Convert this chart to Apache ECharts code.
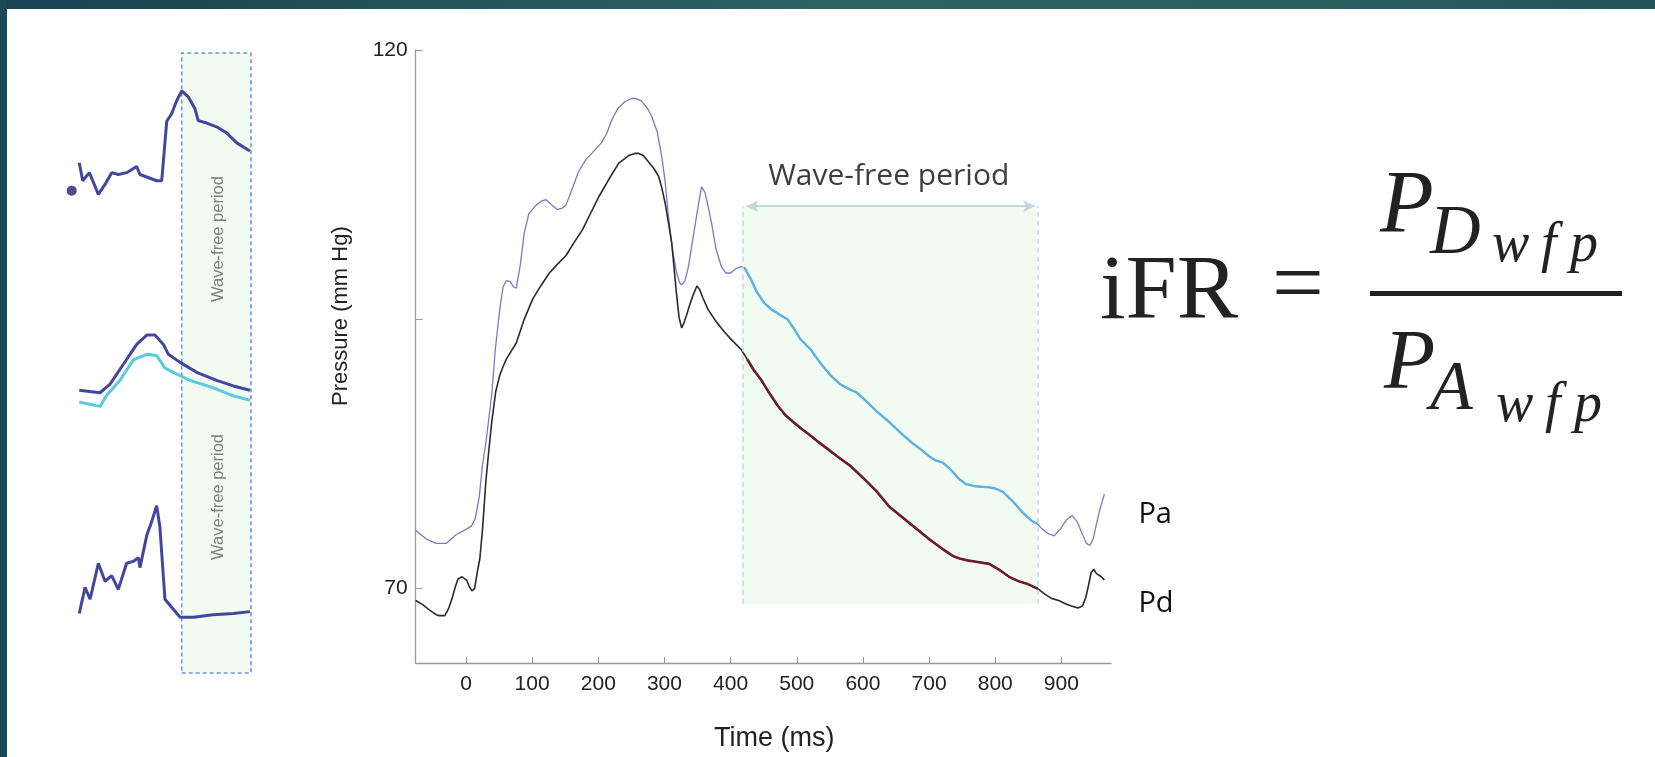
<!DOCTYPE html>
<html><head><meta charset="utf-8">
<script src="https://cdn.jsdelivr.net/npm/echarts@6/dist/echarts.min.js"></script>
<style>html,body{margin:0;padding:0;background:#fff;}#c{width:1655px;height:757px;}</style>
</head><body><div id="c"></div>
<script>
// ---------------- DATA ----------------
// Main chart: aortic (Pa) and distal (Pd) pressure, time in ms, pressure in mm Hg
const paTime = [-76,-60,-45,-30,-15,0,8,14,20,25,30,35,39,44,51,56,61,67,72,76,82,88,95,106,115,121,130,138,145,151,160,170,181,190,196,205,213,221,230,240,250,256,265,275,281,289,296,301,306,312,318,323,326,331,336,343,351,356,361,366,371,378,386,393,400,408,416,421,430,440,451,462,475,486,495,505,521,535,551,565,580,591,605,620,641,660,675,686,700,710,721,735,745,756,770,791,800,811,825,841,855,864,870,880,889,898,908,916,924,932,938,943,948,953,958,965];
const paValue = [75.4,74.6,74.2,74.2,75.0,75.5,75.8,76.5,78.5,81.5,83.5,86,88,92,95.9,98.0,98.6,98.5,98.0,97.9,100,103,104.8,105.6,106.0,106.1,105.6,105.2,105.3,105.6,107,108.7,109.8,110.4,110.8,111.4,112.3,113.6,114.6,115.2,115.5,115.5,115.3,114.5,113.8,112.4,110.1,107.8,104.6,101.5,99.4,98.4,98.2,98.6,99.8,102.5,105.5,107.3,106.8,105.5,104.0,101.5,99.9,99.3,99.3,99.7,99.9,99.8,98.8,97.5,96.5,95.9,95.4,95.0,94.2,93.2,92.2,91.0,89.8,89.0,88.5,88.2,87.4,86.5,85.4,84.3,83.5,83.0,82.3,81.9,81.7,80.9,80.2,79.7,79.5,79.4,79.3,79.0,78.2,77.1,76.3,76.0,75.6,75.1,74.9,75.5,76.4,76.8,76.2,75.0,74.2,74.0,74.6,76.0,77.3,78.8];
const pdTime = [-76,-65,-57,-48,-42,-32,-26,-21,-16,-12,-6,1,5,9,13,17,21,25,30,34,39,45,51,56,61,68,76,88,101,113,126,138,151,163,176,188,201,216,231,246,255,261,268,276,284,291,296,301,306,311,315,318,322,326,329,333,338,343,349,353,358,366,378,391,403,416,425,435,446,458,471,483,496,508,521,533,546,563,581,600,621,640,660,680,700,720,737,746,760,771,791,805,821,835,850,864,875,885,896,906,915,925,932,937,941,945,949,953,958,962,965];
const pdValue = [68.9,68.5,68.1,67.7,67.5,67.5,68.2,69.1,70.2,70.9,71.1,70.8,70.2,69.8,70.0,71.5,72.8,75.5,79.9,82.5,85.5,88.3,89.8,90.6,91.3,92.0,92.8,95.0,96.9,98.1,99.3,100.1,100.9,102.1,103.3,104.8,106.4,108.0,109.5,110.2,110.4,110.4,110.2,109.6,109.0,108.3,107.2,105.8,104.0,102.1,99.5,97.5,95.2,94.2,94.6,95.3,96.3,97.2,98.1,97.8,97.0,95.9,94.8,93.8,93.0,92.2,91.3,90.3,89.4,88.2,87.0,86.1,85.4,84.8,84.2,83.6,83.0,82.2,81.4,80.3,79.0,77.6,76.6,75.6,74.6,73.7,73.0,72.8,72.6,72.5,72.3,71.8,71.1,70.7,70.4,70.0,69.5,69.1,68.9,68.6,68.4,68.2,68.4,69.2,70.3,71.5,71.8,71.4,71.2,71.0,70.8];
const wfpTime = [418, 864];          // wave-free period (ms)
const wfpPressure = [68.6, 105.5];   // shaded band extent (mm Hg)
const xTicks = [0,100,200,300,400,500,600,700,800,900];
const yTicks = [70,95,120];
const yLabels = [70,120];

// Left panel sketches (arbitrary units: x 0-100, y 0-100)
const s1x = [4.6,6.5,10.2,15.2,18.9,22.6,26.3,30.9,36.5,38.3,47.6,50.4,53.2,55.9,58.7,61.5,65.2,68.9,70.7,75.4,80.9,86.5,92.1,99.4];
const s1y = [82.3,79.4,80.7,77.2,78.8,80.7,80.4,80.7,81.7,80.4,79.4,79.4,89.0,90.2,92.3,93.9,92.9,91.0,89.1,88.7,88.1,87.1,85.5,84.2];
const s1dot = [0.4, 77.8];
const s2x = [4.6,16.1,21.7,29.1,36.5,42.1,46.7,51.3,54.1,60.6,69.8,80.9,90.2,99.4];
const s2y = [45.6,45.2,46.6,49.8,53.0,54.5,54.5,53.0,51.4,50.1,48.5,47.2,46.3,45.6];
const s2cx = [4.6,16.1,19.6,27.2,34.6,42.1,47.6,52.2,56.8,66.1,79.1,90.2,99.4];
const s2cy = [43.7,43.0,44.7,47.2,50.5,51.4,51.2,49.2,48.5,47.2,46.0,44.7,44.0];
const s3x = [4.6,7.8,10.6,15.2,18.9,22.6,26.3,30.9,34.6,37.4,38.3,42.1,44.8,47.6,49.4,52.2,55.9,60.6,68.0,79.1,90.2,99.4];
const s3y = [9.6,13.8,11.9,17.7,14.8,15.7,13.5,17.7,18.0,18.6,17.0,22.2,24.4,27.0,23.5,11.9,10.6,9.0,9.0,9.4,9.6,9.9];
const boxX = [61.5, 100];
const boxY = [0, 100];
const boxLabelPos = [[81.7, 70.0],[81.7, 28.4]];

// ---------------- BUILD ----------------
const zip = (a, b) => a.map((v, i) => [v, b[i]]);
const inW = p => p[0] >= wfpTime[0] && p[0] <= wfpTime[1];
const paData = zip(paTime, paValue);
const pdData = zip(pdTime, pdValue);
const paW = paData.filter(inW);
const pdW = pdData.filter(inW);

const chart = echarts.init(document.getElementById('c'));
const sans = "'Liberation Sans',Arial,sans-serif";
const calib = "'Open Sans',Lato,sans-serif";
const serif = "'Liberation Serif','DejaVu Serif',serif";

const option = {
  animation: false,
  backgroundColor: '#ffffff',
  grid: [
    {left: 415.7, top: 50, width: 695.3, height: 614.5},
    {left: 71, top: 53, width: 180, height: 620}
  ],
  xAxis: [
    {type: 'value', gridIndex: 0, min: -76, max: 975,
     axisLine: {show: true, onZero: false, lineStyle: {color: '#999', width: 1.3}},
     axisTick: {show: true, inside: true, length: 6, customValues: xTicks, lineStyle: {color: '#999'}},
     axisLabel: {customValues: xTicks, fontFamily: sans, fontSize: 21, color: '#222', margin: 11},
     splitLine: {show: false},
     name: 'Time (ms)', nameLocation: 'middle', nameGap: 62,
     nameTextStyle: {fontFamily: sans, fontSize: 27, color: '#222', padding: [0,0,0,22]}},
    {type: 'value', gridIndex: 1, min: 0, max: 100, show: false}
  ],
  yAxis: [
    {type: 'value', gridIndex: 0, min: 63.1, max: 120,
     axisLine: {show: true, onZero: false, lineStyle: {color: '#999', width: 1.3}},
     axisTick: {show: true, inside: true, length: 7, customValues: yTicks, lineStyle: {color: '#999'}},
     axisLabel: {customValues: yLabels, fontFamily: sans, fontSize: 21, color: '#222', margin: 8},
     splitLine: {show: false}},
    {type: 'value', gridIndex: 1, min: 0, max: 100, show: false}
  ],
  series: [
    // shaded wave-free period
    {type: 'line', xAxisIndex: 0, yAxisIndex: 0, data: [], z: 1, silent: true,
     markArea: {silent: true, itemStyle: {color: '#f1fbf2'},
       data: [[{xAxis: wfpTime[0], yAxis: wfpPressure[0]}, {xAxis: wfpTime[1], yAxis: wfpPressure[1]}]]},
     markLine: {silent: true, symbol: 'none', label: {show: false},
       lineStyle: {color: '#c9d3db', type: [5, 4], width: 1.5},
       data: [
         [{coord: [wfpTime[0], wfpPressure[0]]}, {coord: [wfpTime[0], wfpPressure[1]]}],
         [{coord: [wfpTime[1], wfpPressure[0]]}, {coord: [wfpTime[1], wfpPressure[1]]}]
       ]}},
    // arrow
    {type: 'line', xAxisIndex: 0, yAxisIndex: 0, data: [], z: 2, silent: true,
     markLine: {silent: true, symbol: ['arrow', 'arrow'], symbolSize: [9, 12], label: {show: false},
       lineStyle: {color: '#c3d5df', type: 'solid', width: 2},
       data: [[{coord: [wfpTime[0] + 6, wfpPressure[1]]}, {coord: [wfpTime[1] - 4, wfpPressure[1]]}]]}},
    // Wave-free period title
    {type: 'scatter', xAxisIndex: 0, yAxisIndex: 0, symbolSize: 0, silent: true, z: 5,
     data: [[(wfpTime[0] + wfpTime[1]) / 2 - 2, 108.3]],
     label: {show: true, position: 'inside', formatter: 'Wave-free period', fontFamily: calib, fontSize: 30, color: '#0d0d0d'}},
    // Pa full (thin purple)
    {type: 'line', name: 'Pa', xAxisIndex: 0, yAxisIndex: 0, data: paData, showSymbol: false, z: 3,
     lineStyle: {color: '#7d78c6', width: 1.3},
     endLabel: {show: true, formatter: 'Pa', fontFamily: calib, fontSize: 29, color: '#111', offset: [26, 21]}},
    // Pd full (black)
    {type: 'line', name: 'Pd', xAxisIndex: 0, yAxisIndex: 0, data: pdData, showSymbol: false, z: 3,
     lineStyle: {color: '#2a2a2a', width: 1.6},
     endLabel: {show: true, formatter: 'Pd', fontFamily: calib, fontSize: 29, color: '#111', offset: [26, 24]}},
    // Pa in WFP (blue)
    {type: 'line', xAxisIndex: 0, yAxisIndex: 0, data: paW, showSymbol: false, z: 4,
     lineStyle: {color: '#5cb2e2', width: 2.4}},
    // Pd in WFP (dark red)
    {type: 'line', xAxisIndex: 0, yAxisIndex: 0, data: pdW, showSymbol: false, z: 4,
     lineStyle: {color: '#6e1c2c', width: 2.6}},

    // ---- left panel ----
    {type: 'line', xAxisIndex: 1, yAxisIndex: 1, data: [], z: 1, silent: true,
     markArea: {silent: true, itemStyle: {color: '#f2fbf1', borderColor: '#7592d6', borderType: [4, 3], borderWidth: 1.6},
       data: [[{xAxis: boxX[0], yAxis: boxY[0]}, {xAxis: boxX[1], yAxis: boxY[1]}]]}},
    {type: 'scatter', xAxisIndex: 1, yAxisIndex: 1, symbolSize: 0, silent: true, z: 2,
     data: boxLabelPos,
     label: {show: true, position: 'inside', rotate: 90, formatter: 'Wave-free period',
       fontFamily: sans, fontSize: 16.5, color: '#5f5f5f'}},
    {type: 'line', xAxisIndex: 1, yAxisIndex: 1, data: zip(s1x, s1y), showSymbol: false, z: 3,
     lineStyle: {color: '#44459c', width: 3}},
    {type: 'scatter', xAxisIndex: 1, yAxisIndex: 1, data: [s1dot], symbolSize: 10, z: 3,
     itemStyle: {color: '#1e1f6b'}},
    {type: 'line', xAxisIndex: 1, yAxisIndex: 1, data: zip(s2cx, s2cy), showSymbol: false, z: 3,
     lineStyle: {color: '#5ccadb', width: 3}},
    {type: 'line', xAxisIndex: 1, yAxisIndex: 1, data: zip(s2x, s2y), showSymbol: false, z: 4,
     lineStyle: {color: '#44459c', width: 3}},
    {type: 'line', xAxisIndex: 1, yAxisIndex: 1, data: zip(s3x, s3y), showSymbol: false, z: 3,
     lineStyle: {color: '#44459c', width: 3}}
  ]
};
chart.setOption(option);

// y-axis title positioned through the axis scale
const yTitlePt = chart.convertToPixel({gridIndex: 0}, [-76, 95.3]);

chart.setOption({
  graphic: [
    // slide frame
    {type: 'rect', left: 0, top: 0, shape: {width: 1655, height: 9}, z: 100,
     style: {fill: new echarts.graphic.LinearGradient(0, 0, 1, 0, [
       {offset: 0, color: '#1a4251'}, {offset: 0.5, color: '#2d6263'}, {offset: 0.8, color: '#2b5f60'}, {offset: 1, color: '#23515a'}])}},
    {type: 'rect', left: 0, top: 0, shape: {width: 7, height: 757}, z: 100, style: {fill: '#1c4956'}},
    // y axis title
    {type: 'text', x: yTitlePt[0] - 75, y: yTitlePt[1], rotation: Math.PI / 2,
     style: {text: 'Pressure (mm Hg)', font: "22px 'Liberation Sans',Arial,sans-serif", fill: '#222', align: 'center', verticalAlign: 'middle'}},
    // formula
    {type: 'text', x: 1100, y: 294, style: {text: 'iFR', font: '92px ' + serif, fill: '#222', verticalAlign: 'middle'}},
    {type: 'text', x: 1272, y: 289, style: {text: '=', font: '92px ' + serif, fill: '#222', verticalAlign: 'middle'}},
    {type: 'rect', x: 1370, y: 291, shape: {width: 252, height: 5}, style: {fill: '#222'}},
    {type: 'text', x: 1380, y: 208, style: {text: 'P', font: 'italic 88px ' + serif, fill: '#222', verticalAlign: 'middle'}},
    {type: 'text', x: 1430, y: 235, style: {text: 'D', font: 'italic 70px ' + serif, fill: '#222', verticalAlign: 'middle'}},
    {type: 'text', x: 1492, y: 246, style: {text: 'w', font: 'italic 56px ' + serif, fill: '#222', verticalAlign: 'middle'}},
    {type: 'text', x: 1541, y: 246, style: {text: 'f', font: 'italic 56px ' + serif, fill: '#222', verticalAlign: 'middle'}},
    {type: 'text', x: 1570, y: 246, style: {text: 'p', font: 'italic 56px ' + serif, fill: '#222', verticalAlign: 'middle'}},
    {type: 'text', x: 1384, y: 366, style: {text: 'P', font: 'italic 84px ' + serif, fill: '#222', verticalAlign: 'middle'}},
    {type: 'text', x: 1430, y: 391, style: {text: 'A', font: 'italic 70px ' + serif, fill: '#222', verticalAlign: 'middle'}},
    {type: 'text', x: 1496, y: 406, style: {text: 'w', font: 'italic 56px ' + serif, fill: '#222', verticalAlign: 'middle'}},
    {type: 'text', x: 1545, y: 406, style: {text: 'f', font: 'italic 56px ' + serif, fill: '#222', verticalAlign: 'middle'}},
    {type: 'text', x: 1574, y: 406, style: {text: 'p', font: 'italic 56px ' + serif, fill: '#222', verticalAlign: 'middle'}}
  ]
});
</script>
</body></html>
